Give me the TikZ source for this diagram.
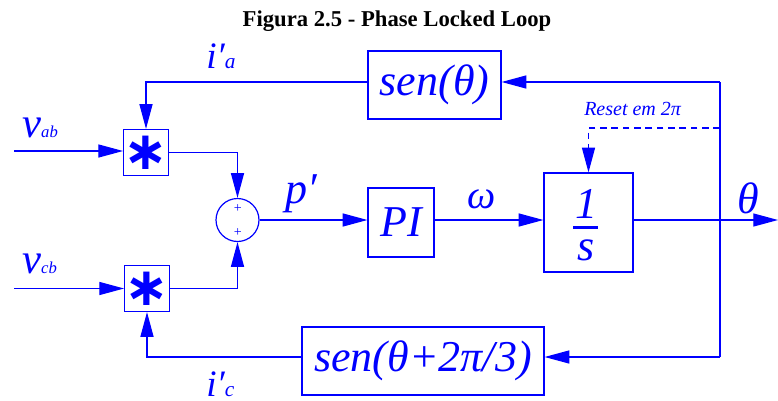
\documentclass[tikz,border=0pt]{standalone}
\usepackage{fontspec}
\setmainfont{LiberationSerif}[Extension=.ttf,UprightFont=*-Regular,BoldFont=*-Bold,ItalicFont=*-Italic,BoldItalicFont=*-BoldItalic]
\newfontfamily\astfont{DejaVu Sans}
\usetikzlibrary{arrows.meta,calc}
\definecolor{bl}{RGB}{0,0,255}
\begin{document}
\begin{tikzpicture}[x=0.75pt,y=-0.75pt,
  wire/.style={draw=bl,line width=0.9pt},
  arr/.style={wire,-{Triangle[length=18.5pt,width=9.75pt]}},
  blockbox/.style={draw=bl,line width=0.9pt,inner sep=0pt,text=bl,font=\fontsize{33}{36}\selectfont\itshape},
  multbox/.style={draw=bl,line width=0.9pt,inner sep=0pt,text=bl,minimum width=33pt,minimum height=34.5pt,font=\astfont\bfseries\fontsize{40}{40}\selectfont},
  lbl/.style={text=bl,inner sep=0pt,font=\itshape},
  big/.style={lbl,font=\fontsize{33}{36}\selectfont\itshape},
]
\useasboundingbox (0,0) rectangle (778,400);

\node[anchor=base,inner sep=0pt,font=\bfseries\fontsize{17}{20}\selectfont] (title) at (397,26.7) {Figura 2.5 - Phase Locked Loop};

% blocks
\node[blockbox,minimum width=99.75pt,minimum height=51pt] (senA) at (434.5,85) {sen(θ)};
\node[blockbox,minimum width=181.5pt,minimum height=51pt] (senC) at (423,361) {sen(θ+2π/3)};
\node[multbox] (mulA) at (146,152.5) {∗};
\node[multbox] (mulC) at (147,288.5) {∗};
\node[draw=bl,line width=0.9pt,circle,minimum size=32.25pt,inner sep=0pt] (sum) at (237.5,220) {};
\node[text=bl,inner sep=0pt,font=\fontsize{10.5}{12}\selectfont] (plusA) at (237.7,209) {+};
\node[text=bl,inner sep=0pt,font=\fontsize{10.5}{12}\selectfont] (plusB) at (237.7,232.5) {+};
\node[blockbox,minimum width=49.5pt,minimum height=51.75pt] (PI) at (401,222.5) {PI};
\node[blockbox,minimum width=66.75pt,minimum height=74.25pt] (integ) at (588.5,222.5) {};
\node[big,anchor=base] (one) at (586,218) {1};
\node[big,anchor=base] (ess) at (586,260) {s};
\draw[bl,line width=2.2pt] (573,227.7) -- (598,227.7);

% junctions
\coordinate (jTop) at (720,82);
\coordinate (jDash) at (720,128);
\coordinate (jBot) at (720,357);
\coordinate (inA) at (14,151);
\coordinate (inC) at (14,288.5);
\coordinate (out) at (778,220);

% connectors
\draw[wire] (jTop) -- (jBot);
\draw[arr] (jTop) -- (jTop -| senA.east);
\draw[arr] (jTop -| senA.west) -| (mulA.north);
\draw[arr] (inA) -- (inA -| mulA.west);
\draw[arr] (mulA.east) -| (sum.north);
\draw[arr] (inC) -- (inC -| mulC.west);
\draw[arr] (mulC.east) -| (sum.south);
\draw[arr] (jBot) -- (jBot -| senC.east);
\draw[arr] (jBot -| senC.west) -| (mulC.south);
\draw[arr] (sum.east) -- (sum.east -| PI.west);
\draw[arr] (PI.east |- sum.east) -- (sum.east -| integ.west);
\draw[arr] (integ.east |- sum.east) -- (out);
\draw[arr,dash pattern=on 5pt off 3.5pt] (jDash) -| (integ.north);

% labels
\node[lbl,anchor=base west] (vab) at (22,137) {{\fontsize{32}{34}\selectfont v}{\fontsize{12.5}{14}\selectfont ab}};
\node[lbl,anchor=base west] (vcb) at (22,273) {{\fontsize{32}{34}\selectfont v}{\fontsize{12.5}{14}\selectfont cb}};
\node[lbl,anchor=base west] (ia) at (206,68) {{\fontsize{28}{30}\selectfont i′}{\fontsize{16}{18}\selectfont a}};
\node[lbl,anchor=base west] (ic) at (206,396) {{\fontsize{28}{30}\selectfont i′}{\fontsize{16}{18}\selectfont c}};
\node[big,anchor=base west] (pp) at (285,203) {p′};
\node[lbl,anchor=base west,font=\fontsize{30}{32}\selectfont\itshape] (om) at (467,208) {ω};
\node[big,anchor=base west] (th) at (737,213) {θ};
\node[lbl,anchor=base west,font=\fontsize{15}{17}\selectfont\itshape] (reset) at (584,115) {Reset em 2π};
\end{tikzpicture}
\end{document}
